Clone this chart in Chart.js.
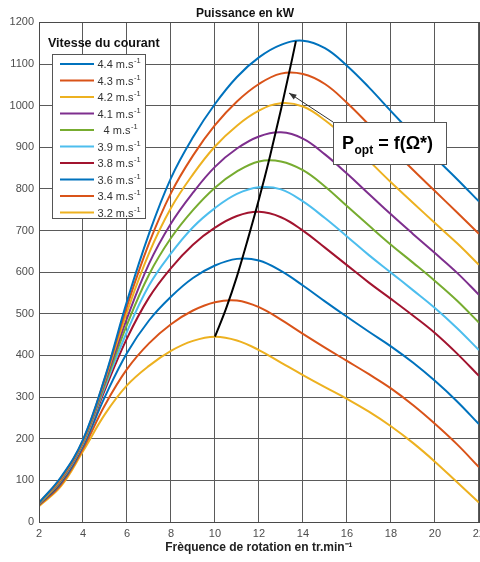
<!DOCTYPE html>
<html><head><meta charset="utf-8">
<script src="https://cdn.jsdelivr.net/npm/chart.js@4"></script>
<style>
html,body{margin:0;padding:0;background:#fff;overflow:hidden;width:480px;height:562px}
#wrap{position:absolute;left:0;top:0;width:490px;height:562px}
</style>
</head><body><div id="wrap"><canvas id="c"></canvas></div>
<script>
// ---- data ----
const rotation = [2,3,4,5,6,7,8,9,10,11,12,13,14,15,16,17,18,19,20,21,22];
const speedLabels = ['4.4','4.3','4.2','4.1','4','3.9','3.8','3.6','3.4','3.2'];
const p44 = [46,108,198,348,530,692,826,924,1004,1069,1116,1146,1156,1138,1096,1044,987,931,876,824,770];
const p43 = [46,106,196,346,518,669,790,880,953,1010,1052,1077,1076,1052,1007,954,899,846,795,744,692];
const p42 = [45,104,194,342,504,645,754,835,902,952,988,1006,998,965,920,868,816,767,718,670,618];
const p41 = [45,102,192,337,489,620,717,791,853,897,926,936,921,883,837,788,739,692,646,599,546];
const p40 = [44,100,190,331,474,594,682,749,803,842,866,866,845,806,759,712,666,623,579,532,479];
const p39 = [44,99,188,325,457,568,645,708,754,788,804,799,770,730,686,641,599,557,514,466,413];
const p38 = [43,97,186,318,441,539,610,666,707,735,745,732,700,659,617,575,536,496,454,405,351];
const p36 = [42,94,182,301,406,484,541,586,616,632,628,603,568,530,493,457,422,383,339,290,235];
const p34 = [40,90,176,281,367,429,475,508,528,532,516,486,452,419,387,355,321,281,236,187,132];
const p32 = [38,86,170,259,328,375,411,435,445,436,413,383,353,324,296,265,230,190,145,96,47];
const optOmega = [10,10.5,11,11.5,12,12.5,13,13.5,13.68];
const optPower = [445,512,590,680,775,878,990,1110,1155];
const xTicks = [2,4,6,8,10,12,14,16,18,20,22];
const yTicks = [0,100,200,300,400,500,600,700,800,900,1000,1100,1200];
const titleText = 'Puissance en kW';
const xTitle = 'Frèquence de rotation en tr.min⁻¹';
const legendTitle = 'Vitesse du courant';
const annotText = ['P','opt',' = f(Ω*)'];

const seriesValues = [p44,p43,p42,p41,p40,p39,p38,p36,p34,p32];
const colors = ['#0072BD','#D95319','#EDB120','#7E2F8E','#77AC30','#4DBEEE','#A2142F','#0072BD','#D95319','#EDB120'];
const FONT = '"Liberation Sans", Arial, Helvetica, sans-serif';

const datasets = [{
  label: 'Popt',
  data: optOmega.map((x,i)=>({x, y: optPower[i]})),
  borderColor: '#000', borderWidth: 2, pointRadius: 0, cubicInterpolationMode: 'monotone', fill:false
}];
seriesValues.forEach((arr,k)=>{
  datasets.push({
    label: speedLabels[k] + ' m.s-1',
    data: rotation.map((x,i)=>({x, y: arr[i]})),
    borderColor: colors[k], borderWidth: 2, pointRadius: 0,
    tension: 0.4, fill:false
  });
});

const overlay = {
  id: 'overlay',
  afterDraw(chart){
    const ctx = chart.ctx;
    const area = chart.chartArea;
    ctx.save();
    // axes box
    ctx.strokeStyle = '#4a4a4a'; ctx.lineWidth = 1;
    ctx.strokeRect(Math.round(area.left)+0.5, Math.round(area.top)+0.5, Math.round(area.right-area.left), Math.round(area.bottom-area.top));
    // legend title
    ctx.fillStyle = '#111';
    ctx.font = 'bold 12.5px ' + FONT;
    ctx.textBaseline = 'middle'; ctx.textAlign = 'left';
    ctx.fillText(legendTitle, 48, 44);
    // legend box
    const lx = 52.5, ly = 54.5, lw = 93, lh = 164;
    ctx.fillStyle = '#fff';
    ctx.fillRect(lx, ly, lw, lh);
    ctx.strokeStyle = '#555';
    ctx.strokeRect(lx, ly, lw, lh);
    speedLabels.forEach((lab,i)=>{
      const y = 64 + i*16.5;
      ctx.strokeStyle = colors[i]; ctx.lineWidth = 2.2;
      ctx.beginPath(); ctx.moveTo(60, y); ctx.lineTo(94, y); ctx.stroke();
      ctx.fillStyle = '#333';
      ctx.font = '11px ' + FONT;
      ctx.textBaseline = 'middle';
      const main = (lab.length === 1 ? '  ' : '') + lab + ' m.s';
      ctx.fillText(main, 97.5, y + 1);
      const w = ctx.measureText(main).width;
      ctx.font = '7.5px ' + FONT;
      ctx.fillText('-1', 97.5 + w + 0.5, y - 3);
    });
    // annotation arrow
    ctx.strokeStyle = '#333'; ctx.fillStyle = '#333'; ctx.lineWidth = 1;
    const ax0 = 333, ay0 = 122, ax1 = 289, ay1 = 93;
    ctx.beginPath(); ctx.moveTo(ax0, ay0); ctx.lineTo(ax1, ay1); ctx.stroke();
    const ang = Math.atan2(ay1-ay0, ax1-ax0);
    ctx.beginPath();
    ctx.moveTo(ax1, ay1);
    ctx.lineTo(ax1 - 8*Math.cos(ang-0.35), ay1 - 8*Math.sin(ang-0.35));
    ctx.lineTo(ax1 - 8*Math.cos(ang+0.35), ay1 - 8*Math.sin(ang+0.35));
    ctx.closePath(); ctx.fill();
    // annotation box
    ctx.fillStyle = '#fff';
    ctx.fillRect(333.5, 122.5, 113, 42);
    ctx.strokeStyle = '#555';
    ctx.strokeRect(333.5, 122.5, 113, 42);
    ctx.fillStyle = '#000';
    ctx.textBaseline = 'alphabetic';
    ctx.font = 'bold 18px ' + FONT;
    let tx = 342;
    ctx.fillText(annotText[0], tx, 149);
    tx += ctx.measureText(annotText[0]).width + 0.5;
    ctx.font = 'bold 12px ' + FONT;
    ctx.fillText(annotText[1], tx, 154);
    tx += ctx.measureText(annotText[1]).width;
    ctx.font = 'bold 18px ' + FONT;
    ctx.fillText(annotText[2], tx, 149);
    ctx.restore();
  }
};

new Chart(document.getElementById('c'), {
  type: 'line',
  data: { datasets },
  options: {
    responsive: true, maintainAspectRatio: false, animation: false,
    layout: { padding: 0 },
    plugins: {
      legend: { display: false },
      tooltip: { enabled: false },
      title: { display: true, text: titleText, color: '#111',
        font: { family: FONT, size: 12, weight: 'bold' }, padding: { top: 6, bottom: 2 } }
    },
    scales: {
      x: {
        type: 'linear', min: 2, max: 22,
        afterBuildTicks(s){ s.ticks = xTicks.map(v=>({value:v})); },
        afterFit(s){ s.height = 40; },
        grid: { color: '#5a5a5a', lineWidth: 1, drawTicks: false },
        border: { display: false },
        ticks: { color: '#4d4d4d', font: { family: FONT, size: 11 }, padding: 5, maxRotation: 0,
          callback: v => String(v) },
        title: { display: true, text: xTitle, color: '#222',
          font: { family: FONT, size: 12, weight: 'bold' }, padding: { top: 2, bottom: 7 } }
      },
      y: {
        type: 'linear', min: 0, max: 1200,
        afterBuildTicks(s){ s.ticks = yTicks.map(v=>({value:v})); },
        afterFit(s){ s.width = 39; },
        grid: { color: '#5a5a5a', lineWidth: 1, drawTicks: false },
        border: { display: false },
        ticks: { color: '#4d4d4d', font: { family: FONT, size: 11 }, padding: 5,
          callback: v => String(v) }
      }
    }
  },
  plugins: [overlay]
});
</script>
</body></html>
